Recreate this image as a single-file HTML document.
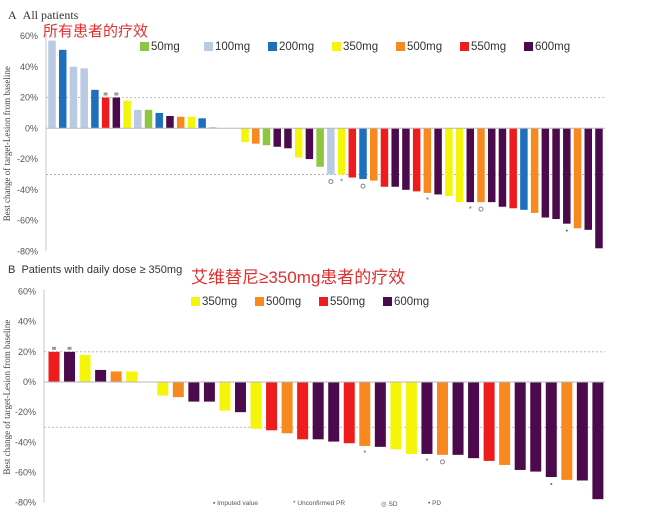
<!DOCTYPE html>
<html><head><meta charset="utf-8"><style>
html,body{margin:0;padding:0;background:#fff;}
svg{display:block;font-family:"Liberation Sans","Noto Sans CJK SC",sans-serif;}
</style></head><body>
<svg id="chart" width="658" height="526" viewBox="0 0 658 526"></svg>
<script>
const doseColors = {"50":"#8dc63f","100":"#b9cae2","200":"#1f6fbf","350":"#f5f50a","500":"#f7891f","550":"#ee1c1c","600":"#4b0a4b"};
const ticks = [60,40,20,0,-20,-40,-60,-80];
const doseA = ["100","200","100","100","200","550","600","350","100","50","200","600","500","350","200","200","200","200",
"350","500","50","600","600","350","600","50",
"100","350","550","200","500","550","600","600","550","500","600","350","350","600","500","600","600","550","200","500","600","600","600","500","600","600"];
const valueA = [57,51,40,39,25,20,20,18,12,12,10,8,7.5,7.5,6.5,0.5,0,0,
-9,-10,-11,-12,-13,-19,-20,-25,
-30,-30,-32,-33,-34,-38,-38,-40,-41,-42,-43,-44,-48,-48,-48,-48,-51,-52,-53,-55,-58,-59,-62,-65,-66,-78];
const markA = ["","","","","","i","i","","","","","","","","","","","",
"","","","","","","","",
"sd","u","","sd","","","","","","u","","","","u","sd","","","","","","","","p","","",""];
const doseB = ["550","600","350","600","500","350","350","350","500","600","600","350","600","350","550","500","550","600",
"600","550","500","600","350","350","600","500","600","600","550","500","600","600","600","500","600","600"];
const valueB = [20,20,18,8,7,7,0,-9,-10,-13,-13,-19,-20,-31,-32,-34,-38,-38,
-39.5,-40.6,-42.4,-43,-44.6,-47.7,-47.7,-48.3,-48.3,-50.5,-52.3,-55,-58.3,-59.4,-63,-64.9,-65.3,-77.7];
const markB = ["i","i","","","","","","","","","","","","","","","","",
"","","u","","","","u","sd","","","","","","","p","","",""];
const legendA = ["50","100","200","350","500","550","600"];
const legendB = ["350","500","550","600"];

const svg = document.getElementById('chart');
const NS = "http://www.w3.org/2000/svg";
function el(tag, attrs, parent){const e=document.createElementNS(NS,tag);for(const k in attrs)e.setAttribute(k,attrs[k]);(parent||svg).appendChild(e);return e;}

function panel(cfg){
  const g = el('g',{});
  
  
  const y = v => cfg.y0 - v*(cfg.y0-cfg.yTop)/60;
  const x = i => cfg.x0 + i*cfg.step;
  // axis
  const ax = el('line',{x1:cfg.ax,x2:cfg.ax,y1:y(60)-2,y2:y(-80),stroke:"#c8c8c8","stroke-width":1},g);
  
  
  ticks.forEach(t=>{
    const tx = el('text',{x:cfg.ax-8,y:y(t)+3,"text-anchor":"end","font-size":"9",fill:"#555"},g);
    tx.textContent = t+"%";
    
    
  });
  [20,-30].forEach(t=>{
    const d = el('line',{x1:cfg.ax,x2:cfg.right,y1:y(t),y2:y(t),stroke:"#aaa","stroke-width":0.8,"stroke-dasharray":"2,2"},g);
    
    
  });
  cfg.values.forEach((v,i)=>{
    const top = Math.min(y(v),y(0)), h = Math.abs(y(v)-y(0));
    const r = el('rect',{x:x(i)-cfg.bw/2,y:top,width:cfg.bw,height:Math.max(h,0.01),fill:doseColors[cfg.doses[i]]},g);
    
    
    const m = cfg.marks[i];
    if(m){
      const my = v>0 ? y(v)-3 : y(v)+7;
      if(m==='sd'){el('circle',{cx:x(i),cy:my,r:2,fill:"none",stroke:"#888","stroke-width":1},g);}
      else if(m==='p'){el('circle',{cx:x(i),cy:my,r:1,fill:"#666"},g);}
      else if(m==='i'){el('rect',{x:x(i)-2,y:my-2,width:4,height:3,fill:"#999"},g);}
      else {const s=el('text',{x:x(i),y:my+3,"text-anchor":"middle","font-size":"8",fill:"#777"},g);s.textContent="*";}
    }
  });
  const z = el('line',{x1:cfg.ax,x2:cfg.right,y1:y(0),y2:y(0),stroke:"#b8b8b8","stroke-width":1},g);
  
  
  // legend
  let lx = cfg.legX;
  cfg.legend.forEach(d=>{
    const lg = el('g',{},g);
    
    
    el('rect',{x:lx,y:cfg.legY-8,width:9,height:9,fill:doseColors[d]},lg);
    const t = el('text',{x:lx+11,y:cfg.legY,"font-size":"11.5",fill:"#333"},lg);
    t.textContent = d+"mg";
    lx += cfg.legStep;
  });
  const yt = el('text',{transform:`translate(10,${(y(60)+y(-80))/2}) rotate(-90)`,"text-anchor":"middle","font-size":"9","font-family":"Liberation Serif, serif",fill:"#444"},g);
  yt.textContent = cfg.ytitle;
  
  
}

panel({name:'panel-a',y0:128.3,yTop:36,ax:46,right:605,x0:52,step:10.725,bw:7.5,doses:doseA,values:valueA,marks:markA,legend:legendA,legX:140,legY:50,legStep:64,ytitle:"Best change of target-Lesion from baseline"});
panel({name:'panel-b',y0:382,yTop:291.5,ax:44,right:605,x0:54,step:15.54,bw:11,doses:doseB,values:valueB,marks:markB,legend:legendB,legX:191,legY:305,legStep:64,ytitle:"Best change of target-Lesion from baseline"});
</script>
<svg width="0" height="0"></svg>
<div style="position:absolute;left:0;top:0;width:658px;height:526px;pointer-events:none;">
  <div style="position:absolute;left:8px;top:8px;font:12px 'Liberation Serif',serif;color:#333;">A&nbsp;&nbsp;All patients</div>
  <div style="position:absolute;left:43px;top:20px;font:15px 'Liberation Sans','Noto Sans CJK SC',sans-serif;color:#e03030;">所有患者的疗效</div>
  <div style="position:absolute;left:8px;top:264px;font:11px 'Liberation Sans',sans-serif;color:#333;">B&nbsp;&nbsp;Patients with daily dose ≥ 350mg</div>
  <div style="position:absolute;left:191px;top:263px;font:17px 'Liberation Sans','Noto Sans CJK SC',sans-serif;color:#e03030;">艾维替尼≥350mg患者的疗效</div>
  <div style="position:absolute;left:213px;top:500px;font:6.5px 'Liberation Sans',sans-serif;color:#555;white-space:nowrap;">
    <span style="position:absolute;left:0">▪ Imputed value</span>
    <span style="position:absolute;left:80px">* Unconfirmed PR</span>
    <span style="position:absolute;left:168px">◎ SD</span>
    <span style="position:absolute;left:215px">• PD</span>
  </div>
</div>
</body></html>
